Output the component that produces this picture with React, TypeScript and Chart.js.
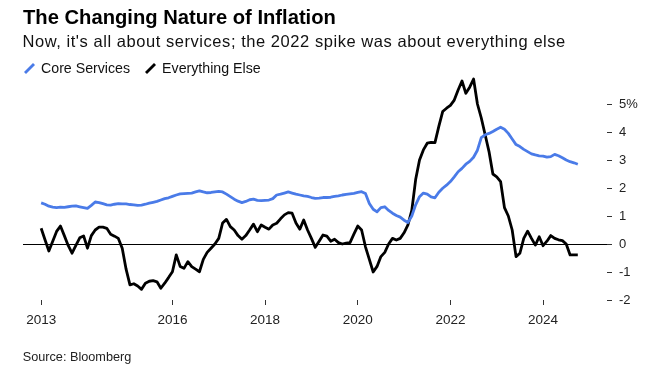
import React, { useEffect, useRef } from "react";
import { Chart, registerables } from "chart.js";

Chart.register(...registerables);

// Monthly data, March 2013 .. October 2024
const START_YEAR = 2013;
const START_MONTH = 3;

const coreServices = [
  1.47, 1.42, 1.35, 1.32, 1.3, 1.32, 1.31, 1.33, 1.35, 1.36, 1.33, 1.3,
  1.27, 1.38, 1.5, 1.48, 1.44, 1.4, 1.39, 1.42, 1.44, 1.43, 1.43, 1.41,
  1.4, 1.38, 1.39, 1.42, 1.46, 1.49, 1.52, 1.57, 1.62, 1.65, 1.7, 1.75,
  1.79, 1.8, 1.81, 1.82, 1.86, 1.9, 1.86, 1.83, 1.84, 1.86, 1.88, 1.86,
  1.78, 1.69, 1.6, 1.53, 1.48, 1.52, 1.58, 1.6, 1.56, 1.55, 1.56, 1.57,
  1.62, 1.75, 1.78, 1.82, 1.86, 1.82, 1.78, 1.75, 1.72, 1.7, 1.66, 1.63,
  1.64, 1.66, 1.66, 1.67, 1.7, 1.72, 1.75, 1.77, 1.79, 1.81, 1.84, 1.87,
  1.8, 1.45, 1.24, 1.15, 1.3, 1.33, 1.2, 1.1, 1.02, 0.96, 0.85, 0.77,
  1.0, 1.4, 1.69, 1.82, 1.78, 1.68, 1.65, 1.85, 1.99, 2.1, 2.23, 2.4,
  2.58, 2.7, 2.85, 2.95, 3.1, 3.35, 3.8, 3.9, 3.95, 4.02, 4.1, 4.17,
  4.1, 3.95, 3.75, 3.55, 3.48, 3.38, 3.3, 3.22, 3.18, 3.15, 3.14, 3.1,
  3.12, 3.2, 3.15, 3.08, 3.0, 2.94, 2.9, 2.85,
];

const everythingElse = [
  0.56, 0.15, -0.25, 0.1, 0.45, 0.64, 0.3, -0.05, -0.33, -0.05, 0.22, 0.29,
  -0.15, 0.3, 0.5, 0.6, 0.6, 0.56, 0.35, 0.28, 0.2, -0.15, -0.9, -1.46,
  -1.42, -1.5, -1.62, -1.4, -1.33, -1.31, -1.35, -1.58, -1.4, -1.2, -0.99, -0.39,
  -0.8, -0.87, -0.63, -0.81, -0.9, -0.99, -0.55, -0.3, -0.15, 0.0, 0.2, 0.75,
  0.88, 0.62, 0.5, 0.3, 0.17, 0.3, 0.5, 0.71, 0.44, 0.68, 0.6, 0.53,
  0.68, 0.74, 0.9, 1.04, 1.12, 1.1, 0.75, 0.53, 0.86, 0.5, 0.2, -0.12,
  0.1, 0.32, 0.28, 0.1, 0.17, 0.05, 0.0, 0.03, 0.05, 0.35, 0.64, 0.5,
  -0.1, -0.55, -1.0, -0.8, -0.45, -0.3, 0.0, 0.2, 0.14, 0.2, 0.4, 0.68,
  1.2, 2.3, 3.0, 3.36, 3.6, 3.63, 3.62, 4.2, 4.73, 4.85, 4.95, 5.14,
  5.5, 5.82, 5.38, 5.6, 5.89, 5.0, 4.5, 3.9, 3.3, 2.5, 2.4, 2.23,
  1.3, 1.0, 0.5, -0.45, -0.33, 0.2, 0.46, 0.2, -0.04, 0.26, -0.06, 0.1,
  0.3, 0.2, 0.15, 0.12, 0.0, -0.39, -0.39, -0.39,
];

const xTickValues = [2013 + 2 / 12, 2016, 2018, 2020, 2022, 2024];
const yTickValues = [-2, -1, 0, 1, 2, 3, 4, 5];

const TITLE = "The Changing Nature of Inflation";
const SUBTITLE = "Now, it's all about services; the 2022 spike was about everything else";
const SERIES_NAMES = ["Core Services", "Everything Else"];
const SOURCE = "Source: Bloomberg";

const BLUE = "#4a7be8";
const BLACK = "#000000";
const FONT = "'Liberation Sans', Arial, Helvetica, sans-serif";

function toPoints(values: number[]) {
  return values.map((v, i) => ({
    x: START_YEAR + (START_MONTH - 1 + i) / 12,
    y: v,
  }));
}

function LegendSlash({ color }: { color: string }) {
  return (
    <svg width="13" height="12" style={{ display: "inline-block", verticalAlign: "baseline", marginRight: 5 }}>
      <line x1="2" y1="11" x2="11" y2="2" stroke={color} strokeWidth="2.8" strokeLinecap="butt" />
    </svg>
  );
}

export default function App() {
  const canvasRef = useRef<HTMLCanvasElement | null>(null);

  useEffect(() => {
    const canvas = canvasRef.current;
    if (!canvas) return;
    const chart = new Chart(canvas, {
      type: "line",
      data: {
        datasets: [
          {
            label: SERIES_NAMES[0],
            data: toPoints(coreServices),
            borderColor: BLUE,
            borderWidth: 2.8,
            pointRadius: 0,
            tension: 0,
            borderJoinStyle: "round",
          },
          {
            label: SERIES_NAMES[1],
            data: toPoints(everythingElse),
            borderColor: BLACK,
            borderWidth: 2.8,
            pointRadius: 0,
            tension: 0,
            borderJoinStyle: "round",
          },
        ],
      },
      options: {
        animation: false,
        responsive: false,
        maintainAspectRatio: false,
        layout: { padding: { left: 23, top: 76, right: 0, bottom: 42 } },
        plugins: {
          legend: { display: false },
          tooltip: { enabled: false },
          title: { display: false },
        },
        scales: {
          x: {
            type: "linear",
            min: 2012.775,
            max: 2025.38,
            border: { display: false },
            grid: {
              drawOnChartArea: false,
              drawTicks: true,
              tickLength: 5,
              tickColor: "#333",
              lineWidth: 1,
            },
            afterBuildTicks: (scale: any) => {
              scale.ticks = xTickValues.map((v) => ({ value: v }));
            },
            afterFit: (scale: any) => {
              scale.height = 30;
            },
            ticks: {
              autoSkip: false,
              maxRotation: 0,
              minRotation: 0,
              padding: 7,
              color: "#222",
              font: { family: FONT, size: 13.5 },
              callback: (v: any) => String(Math.floor(Number(v) + 0.001)),
            },
          },
          y: {
            type: "linear",
            position: "right",
            min: -2,
            max: 6,
            border: { display: false },
            grid: {
              drawOnChartArea: true,
              drawTicks: true,
              tickLength: 5,
              color: (ctx: any) => (ctx.tick && ctx.tick.value === 0 ? "#000" : "rgba(0,0,0,0)"),
              tickColor: "#333",
              lineWidth: 1,
            },
            afterBuildTicks: (scale: any) => {
              scale.ticks = yTickValues.map((v) => ({ value: v }));
            },
            afterFit: (scale: any) => {
              scale.width = 50;
            },
            ticks: {
              padding: 7,
              color: "#222",
              font: { family: FONT, size: 13 },
              callback: (v: any) => (Number(v) === 5 ? "5%" : String(v)),
            },
          },
        },
      },
    });
    return () => chart.destroy();
  }, []);

  return (
    <div
      style={{
        position: "fixed",
        left: 0,
        top: 0,
        width: 657,
        height: 372,
        background: "#fff",
        fontFamily: FONT,
        overflow: "hidden",
      }}
    >
      <canvas
        ref={canvasRef}
        width={657}
        height={372}
        style={{ position: "absolute", left: 0, top: 0, width: 657, height: 372 }}
      />
      <div
        style={{
          position: "absolute",
          left: 23,
          top: 6.9,
          fontSize: 20.2,
          lineHeight: 1,
          fontWeight: 700,
          color: "#000",
          whiteSpace: "nowrap",
        }}
      >
        {TITLE}
      </div>
      <div
        style={{
          position: "absolute",
          left: 22.5,
          top: 33.3,
          fontSize: 16.5,
          letterSpacing: 0.55,
          lineHeight: 1,
          color: "#111",
          whiteSpace: "nowrap",
        }}
      >
        {SUBTITLE}
      </div>
      <div
        style={{
          position: "absolute",
          left: 23,
          top: 61.3,
          fontSize: 14.2,
          lineHeight: 1,
          color: "#111",
          whiteSpace: "nowrap",
          display: "flex",
          alignItems: "center",
        }}
      >
        <span style={{ display: "inline-flex", alignItems: "center", marginRight: 14 }}>
          <LegendSlash color={BLUE} />
          {SERIES_NAMES[0]}
        </span>
        <span style={{ display: "inline-flex", alignItems: "center" }}>
          <LegendSlash color={BLACK} />
          {SERIES_NAMES[1]}
        </span>
      </div>
      <div
        style={{
          position: "absolute",
          left: 22.7,
          top: 350.5,
          fontSize: 12.7,
          lineHeight: 1,
          color: "#222",
          whiteSpace: "nowrap",
        }}
      >
        {SOURCE}
      </div>
    </div>
  );
}
